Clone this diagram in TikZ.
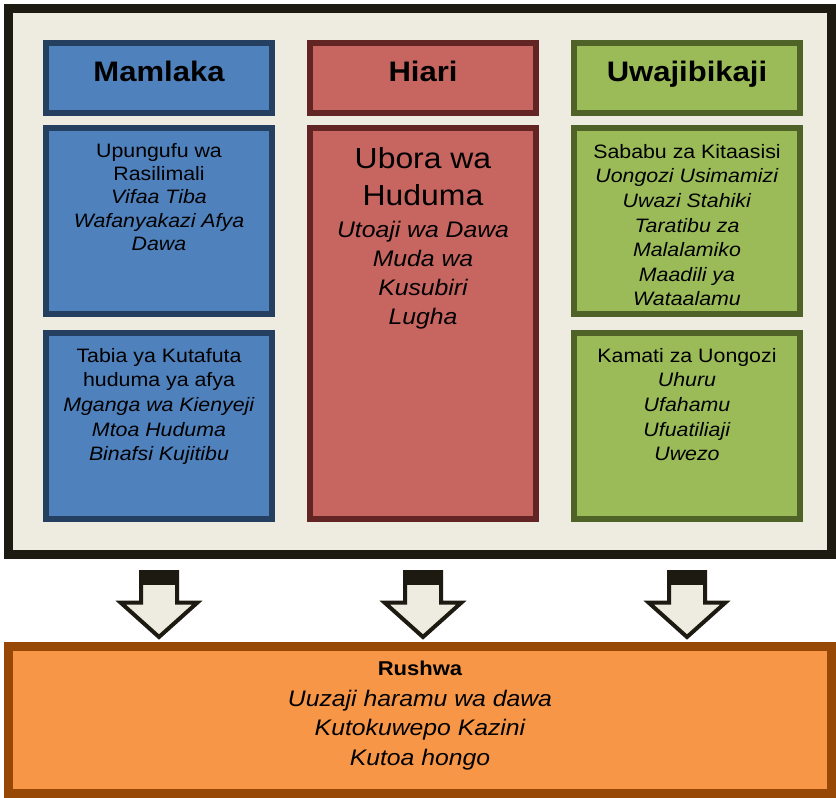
\documentclass[tikz,border=0pt]{standalone}
\usepackage{fontspec}
\setmainfont[FakeStretch=1.1]{Liberation Sans}
\usetikzlibrary{positioning}
\definecolor{framedark}{RGB}{29,27,17}
\definecolor{framebg}{RGB}{238,236,225}
\definecolor{bluefill}{RGB}{79,129,189}
\definecolor{blueline}{RGB}{36,63,96}
\definecolor{redfill}{RGB}{199,101,96}
\definecolor{redline}{RGB}{99,37,35}
\definecolor{greenfill}{RGB}{155,187,89}
\definecolor{greenline}{RGB}{79,98,40}
\definecolor{orangefill}{RGB}{247,150,70}
\definecolor{orangeline}{RGB}{151,72,6}

\begin{document}
\begin{tikzpicture}[x=1pt,y=-1pt,
  colbox/.style={draw, line width=6pt, inner sep=0pt, minimum width=226pt},
  headbox/.style={colbox, minimum height=70pt, text height=20pt, text depth=12.8pt,
    font=\fontsize{28.2}{34}\selectfont\bfseries},
  itemtext/.style={align=center, inner sep=0pt, font=\fontsize{19.4}{24.6}\selectfont},
  arrowbody/.style={fill=framebg, draw=framedark, line width=4pt, line join=miter}]
\useasboundingbox (0,0) rectangle (836,798);
\draw[line width=9pt, draw=framedark, fill=framebg] (8.5,8.5) rectangle (831.5,554.5); %outer frame%

% column heads %
\node[headbox, fill=bluefill, draw=blueline] (mamlaka) at (159,78) {Mamlaka};
\node[headbox, fill=redfill, draw=redline, right=32pt of mamlaka] (hiari) {Hiari};
\node[headbox, fill=greenfill, draw=greenline, right=32pt of hiari] (uwaj) {Uwajibikaji};

% column bodies %
\node[colbox, minimum height=186pt, fill=bluefill, draw=blueline, below=9pt of mamlaka] (rasil) {};
\node[colbox, minimum height=186pt, fill=bluefill, draw=blueline, below=13pt of rasil] (tabia) {};
\node[colbox, minimum height=391pt, fill=redfill, draw=redline, below=9pt of hiari] (ubora) {};
\node[colbox, minimum height=186pt, fill=greenfill, draw=greenline, below=9pt of uwaj] (kitaa) {};
\node[colbox, minimum height=186pt, fill=greenfill, draw=greenline, below=13pt of kitaa] (kamati) {};

\node[itemtext, font=\fontsize{19.4}{23.3}\selectfont, below=18pt of rasil.north] (rasilT)
  {Upungufu wa\\Rasilimali\\\textit{Vifaa Tiba}\\\textit{Wafanyakazi Afya}\\\textit{Dawa}};
\node[itemtext, below=18pt of tabia.north] (tabiaT)
  {Tabia ya Kutafuta\\huduma ya afya\\\textit{Mganga wa Kienyeji}\\\textit{Mtoa Huduma}\\\textit{Binafsi Kujitibu}};
\node[itemtext, font=\fontsize{29}{37}\selectfont, below=22pt of ubora.north] (uboraT) {Ubora wa\\Huduma};
\node[itemtext, font=\fontsize{22.5}{29.1}\selectfont\itshape, below=15pt of uboraT] (uboraL)
  {Utoaji wa Dawa\\Muda wa\\Kusubiri\\Lugha};
\node[itemtext, below=19pt of kitaa.north] (kitaaT)
  {Sababu za Kitaasisi\\\textit{Uongozi Usimamizi}\\\textit{Uwazi Stahiki}\\\textit{Taratibu za}\\\textit{Malalamiko}\\\textit{Maadili ya}\\\textit{Wataalamu}};
\node[itemtext, below=18pt of kamati.north] (kamatiT)
  {Kamati za Uongozi\\\textit{Uhuru}\\\textit{Ufahamu}\\\textit{Ufuatiliaji}\\\textit{Uwezo}};

% block arrows down to the bottom box %
\foreach \c in {tabia,ubora,kamati}{
  \draw[arrowbody] (\c.south) ++(-18,50) -- ++(0,30.5) -- ++(-20.5,0) -- ++(38.5,34.5)
    -- ++(38.5,-34.5) -- ++(-20.5,0) -- ++(0,-30.5) -- cycle;
  \fill[framedark] (\c.south) ++(-20,48) rectangle ++(40,15);
}

% bottom box %
\node[draw=orangeline, fill=orangefill, line width=9pt, inner sep=0pt,
  minimum width=823pt, minimum height=147pt] (rushwa) at (420,720) {};
\node[inner sep=0pt, font=\fontsize{20}{24}\selectfont\bfseries, below=19pt of rushwa.north] (rushT) {Rushwa};
\node[itemtext, font=\fontsize{22.5}{29.5}\selectfont\itshape, below=13.5pt of rushT] (rushL)
  {Uuzaji haramu wa dawa\\Kutokuwepo Kazini\\Kutoa hongo};
\end{tikzpicture}
\end{document}
